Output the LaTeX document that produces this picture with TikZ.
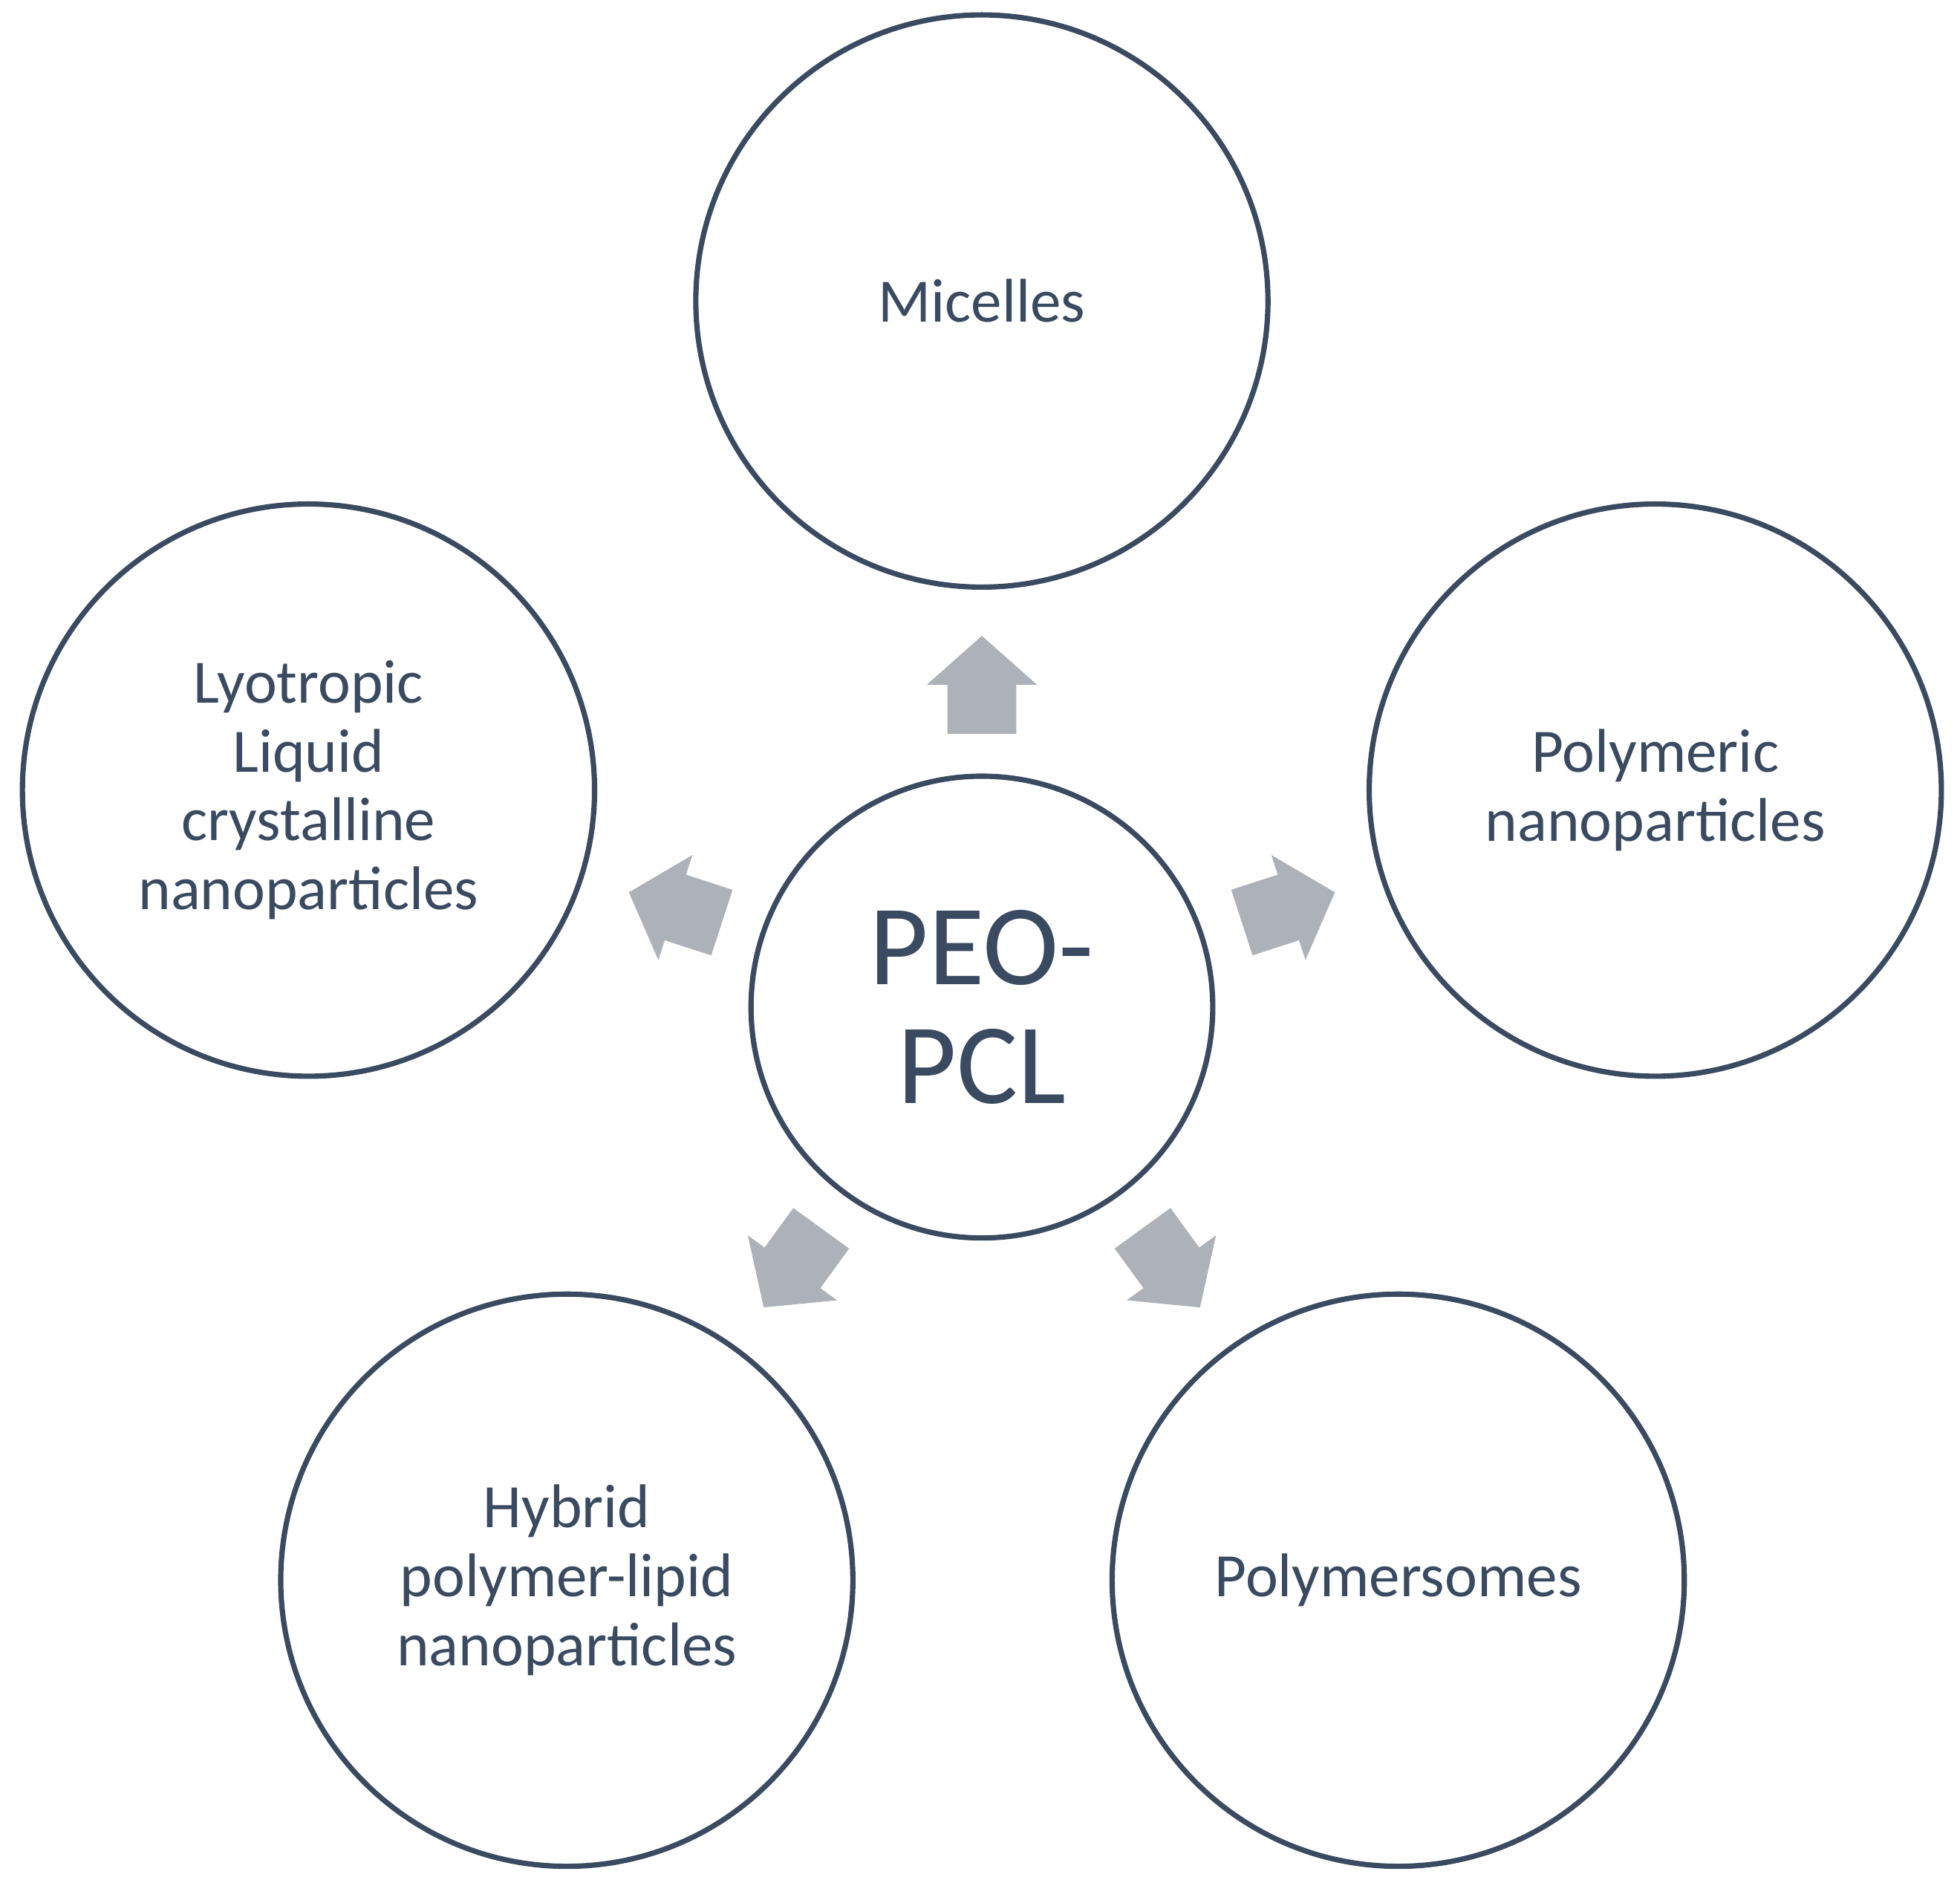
\documentclass[tikz,border=0pt]{standalone}
\usepackage{fontspec}
\setmainfont{Carlito}
\definecolor{ink}{HTML}{3A4A60}
\definecolor{arr}{HTML}{ADB1B8}
\begin{document}
\begin{tikzpicture}[x=0.01cm,y=-0.01cm,
  big/.style={circle,draw=ink,line width=1.2pt,minimum size=4.56cm,inner sep=0pt,text=ink,align=center,font=\fontsize{14}{15.6}\selectfont},
  mid/.style={big,minimum size=3.68cm,font=\fontsize{26}{27}\selectfont},
  blk/.style={fill=arr,draw=none}]
\useasboundingbox (0,0) rectangle (1563,1517);
\node[mid] (c) at (783,803) {PEO-\\PCL};
\node[big] (m) at (783,240) {Micelles};
\node[big] (p) at (1320,630) {Polymeric\\nanoparticles};
\node[big] (l) at (246,630) {Lyotropic\\Liquid\\crystalline\\nanoparticles};
\node[big] (h) at (452,1260) {Hybrid\\polymer-lipid\\nanoparticles};
\node[big] (s) at (1115,1260) {Polymersomes};
\foreach \a in {0,72,144,216,288}{
  \begin{scope}[shift={(c.center)},rotate=\a]
    \fill[blk] (-27.5,-218) -- (27.5,-218) -- (27.5,-257) -- (44,-257) -- (0,-296) -- (-44,-257) -- (-27.5,-257) -- cycle;
  \end{scope}}
\end{tikzpicture}
\end{document}
